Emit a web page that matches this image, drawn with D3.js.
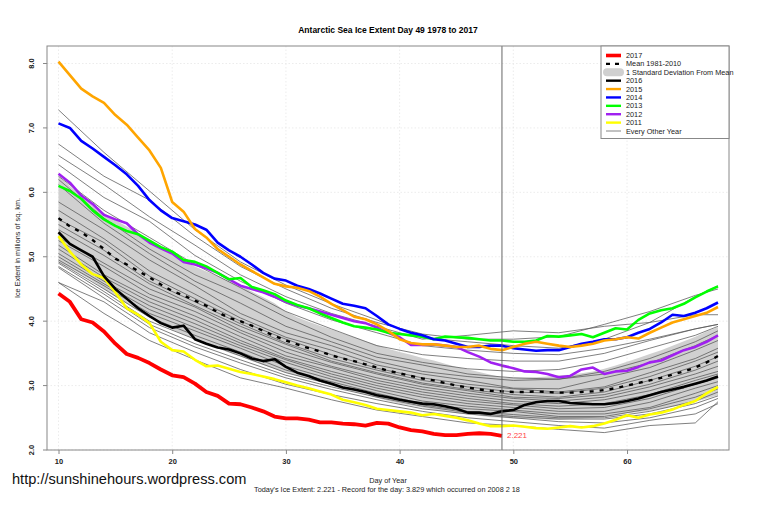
<!DOCTYPE html>
<html><head><meta charset="utf-8">
<script src="https://cdnjs.cloudflare.com/ajax/libs/d3/7.8.5/d3.min.js"></script>
<style>html,body{margin:0;background:#fff}svg{display:block}text{font-family:"Liberation Sans",Arial,sans-serif}</style>
</head><body><svg id="c" width="760" height="506"></svg>
<script>
const firstDay = 10;
const xTicks = [10,20,30,40,50,60];
const yTicks = [2,3,4,5,6,7,8];
const ice2017 = [4.43,4.30,4.03,3.98,3.84,3.65,3.49,3.43,3.35,3.25,3.16,3.13,3.03,2.90,2.84,2.72,2.71,2.66,2.60,2.52,2.49,2.49,2.47,2.43,2.43,2.41,2.40,2.38,2.42,2.41,2.35,2.31,2.29,2.25,2.23,2.23,2.25,2.26,2.25,2.221];
const ice2016 = [5.38,5.2,5.1,5.0,4.7,4.5,4.35,4.2,4.08,3.97,3.9,3.93,3.72,3.65,3.59,3.56,3.5,3.42,3.38,3.41,3.29,3.2,3.15,3.08,3.03,2.97,2.94,2.9,2.85,2.82,2.78,2.75,2.72,2.71,2.68,2.64,2.58,2.58,2.56,2.6,2.62,2.7,2.74,2.76,2.76,2.73,2.72,2.71,2.71,2.73,2.76,2.8,2.85,2.9,2.94,2.98,3.03,3.08,3.14];
const ice2015 = [8.03,7.82,7.61,7.49,7.39,7.2,7.05,6.85,6.65,6.38,5.85,5.7,5.43,5.3,5.12,5.0,4.88,4.78,4.68,4.58,4.54,4.52,4.47,4.38,4.27,4.17,4.07,4.03,3.95,3.85,3.72,3.66,3.64,3.64,3.62,3.6,3.6,3.62,3.57,3.55,3.6,3.65,3.68,3.65,3.62,3.6,3.62,3.65,3.7,3.72,3.75,3.73,3.82,3.9,3.98,4.03,4.08,4.13,4.22];
const ice2014 = [7.07,7.0,6.8,6.68,6.55,6.42,6.28,6.1,5.88,5.72,5.6,5.55,5.5,5.42,5.22,5.1,5.0,4.88,4.75,4.66,4.63,4.55,4.5,4.43,4.35,4.27,4.24,4.2,4.08,3.95,3.88,3.82,3.78,3.72,3.7,3.65,3.6,3.6,3.62,3.62,3.58,3.56,3.54,3.55,3.55,3.6,3.65,3.68,3.72,3.72,3.75,3.82,3.88,3.98,4.1,4.08,4.13,4.2,4.29];
const ice2013 = [6.1,6.02,5.9,5.72,5.58,5.48,5.4,5.35,5.25,5.15,5.08,4.95,4.92,4.85,4.75,4.65,4.67,4.53,4.48,4.42,4.32,4.25,4.2,4.12,4.05,3.98,3.92,3.9,3.87,3.82,3.8,3.78,3.76,3.72,3.76,3.75,3.74,3.72,3.7,3.7,3.68,3.68,3.7,3.77,3.76,3.78,3.8,3.75,3.82,3.89,3.87,4.02,4.12,4.17,4.2,4.27,4.37,4.46,4.54];
const ice2012 = [6.29,6.15,5.95,5.82,5.65,5.58,5.52,5.35,5.22,5.13,5.05,4.92,4.88,4.82,4.75,4.65,4.55,4.5,4.45,4.38,4.3,4.24,4.2,4.15,4.1,4.05,4.0,3.97,3.9,3.82,3.75,3.63,3.63,3.64,3.62,3.6,3.52,3.45,3.36,3.31,3.27,3.22,3.21,3.18,3.13,3.15,3.25,3.28,3.18,3.22,3.23,3.29,3.36,3.39,3.47,3.55,3.6,3.68,3.78];
const ice2011 = [5.32,5.08,4.88,4.73,4.67,4.45,4.2,4.1,3.97,3.68,3.55,3.53,3.4,3.3,3.31,3.26,3.21,3.18,3.14,3.1,3.05,3.0,2.96,2.91,2.86,2.78,2.74,2.7,2.64,2.62,2.6,2.58,2.54,2.56,2.53,2.5,2.46,2.41,2.37,2.37,2.38,2.36,2.34,2.33,2.35,2.37,2.35,2.37,2.41,2.47,2.54,2.5,2.55,2.58,2.63,2.7,2.76,2.88,2.98];
const meanLine = [5.6,5.47,5.38,5.26,5.12,4.97,4.88,4.78,4.68,4.57,4.47,4.4,4.32,4.24,4.14,4.05,4.0,3.93,3.85,3.77,3.7,3.64,3.58,3.53,3.47,3.42,3.38,3.33,3.28,3.23,3.19,3.15,3.11,3.08,3.04,3.0,2.97,2.94,2.92,2.91,2.9,2.9,2.91,2.9,2.89,2.89,2.9,2.91,2.93,2.96,3.0,3.04,3.08,3.12,3.17,3.22,3.28,3.36,3.46];
const sdUpper = [6.25,6.1,5.95,5.8,5.68,5.57,5.47,5.36,5.25,5.13,5.03,4.93,4.85,4.77,4.7,4.62,4.55,4.46,4.37,4.28,4.15,4.06,3.99,3.93,3.87,3.81,3.75,3.69,3.63,3.57,3.52,3.48,3.43,3.39,3.34,3.29,3.25,3.21,3.17,3.13,3.12,3.12,3.13,3.14,3.16,3.17,3.19,3.22,3.26,3.31,3.37,3.43,3.49,3.55,3.62,3.69,3.76,3.84,3.91];
const sdLower = [4.92,4.82,4.73,4.62,4.5,4.38,4.27,4.16,4.06,3.96,3.87,3.79,3.72,3.65,3.58,3.51,3.45,3.38,3.32,3.26,3.2,3.15,3.1,3.05,3.0,2.95,2.9,2.86,2.81,2.76,2.72,2.69,2.66,2.63,2.6,2.57,2.55,2.53,2.51,2.5,2.49,2.48,2.48,2.47,2.47,2.48,2.49,2.5,2.52,2.54,2.57,2.59,2.61,2.64,2.67,2.71,2.75,2.8,2.85];
const thinDays = [10,14,18,22,26,30,34,38,42,46,50,54,58,62,66,68];
const thinYears = [
[7.28,6.62,6.02,5.42,4.92,4.56,4.27,4.02,3.74,3.68,3.62,3.58,3.72,3.98,4.38,4.55],
[6.75,6.25,5.88,5.32,4.85,4.5,4.2,3.98,3.8,3.72,3.72,3.76,3.95,4.15,4.4,4.5],
[6.57,6.12,5.62,5.18,4.72,4.38,4.12,3.92,3.72,3.78,3.85,3.82,3.92,3.98,4.1,4.1],
[6.43,5.92,5.55,5.02,4.62,4.28,4.02,3.82,3.62,3.55,3.5,3.48,3.58,3.72,3.88,3.95],
[6.25,5.72,5.3,4.88,4.52,4.15,3.88,3.62,3.48,3.42,3.38,3.38,3.5,3.7,3.88,3.95],
[6.2,5.6,5.12,4.72,4.42,4.06,3.75,3.5,3.36,3.26,3.22,3.25,3.38,3.58,3.78,3.92],
[6.12,5.52,5.05,4.62,4.28,3.92,3.68,3.44,3.32,3.18,3.12,3.1,3.22,3.42,3.68,3.85],
[5.85,5.42,4.95,4.55,4.12,3.82,3.62,3.38,3.22,3.14,3.08,3.1,3.18,3.35,3.62,3.78],
[5.72,5.28,4.78,4.42,4.05,3.75,3.55,3.32,3.18,3.08,2.96,2.95,3.12,3.28,3.55,3.7],
[5.58,5.22,4.7,4.35,4.0,3.72,3.48,3.27,3.12,3.02,2.95,2.9,2.98,3.2,3.42,3.58],
[5.5,5.1,4.62,4.3,3.96,3.66,3.42,3.24,3.08,2.98,2.9,2.88,2.96,3.14,3.38,3.52],
[5.42,5.02,4.58,4.24,3.92,3.64,3.38,3.2,3.04,2.94,2.86,2.82,2.9,3.08,3.3,3.45],
[5.3,4.9,4.5,4.22,3.86,3.58,3.36,3.18,3.02,2.92,2.82,2.8,2.86,3.02,3.24,3.38],
[5.25,4.85,4.42,4.15,3.82,3.52,3.3,3.12,2.98,2.88,2.8,2.76,2.82,2.98,3.18,3.3],
[5.18,4.72,4.36,4.08,3.76,3.46,3.28,3.08,2.94,2.84,2.76,2.72,2.78,2.92,3.12,3.22],
[5.12,4.68,4.3,4.02,3.7,3.42,3.22,3.04,2.9,2.8,2.72,2.68,2.72,2.86,3.08,3.18],
[5.05,4.62,4.24,3.96,3.66,3.4,3.18,3.0,2.86,2.76,2.7,2.64,2.66,2.8,3.02,3.12],
[5.0,4.58,4.18,3.9,3.62,3.36,3.14,2.96,2.82,2.72,2.66,2.6,2.6,2.74,2.96,3.06],
[4.95,4.55,4.12,3.85,3.58,3.3,3.1,2.92,2.76,2.68,2.62,2.56,2.56,2.66,2.88,3.0],
[4.92,4.5,4.06,3.78,3.52,3.24,3.06,2.88,2.72,2.64,2.6,2.52,2.52,2.64,2.82,2.95],
[4.9,4.46,4.0,3.72,3.46,3.2,3.02,2.86,2.7,2.6,2.55,2.5,2.5,2.6,2.76,2.9],
[4.85,4.42,3.95,3.65,3.4,3.16,2.98,2.82,2.68,2.58,2.52,2.48,2.48,2.56,2.72,2.84],
[4.83,4.36,3.9,3.6,3.35,3.12,2.94,2.78,2.64,2.56,2.5,2.44,2.42,2.5,2.66,2.8],
[4.6,4.3,3.82,3.52,3.25,3.02,2.86,2.72,2.6,2.5,2.44,2.38,2.34,2.46,2.56,2.72],
[4.6,4.12,3.7,3.4,3.12,2.96,2.78,2.62,2.52,2.42,2.38,2.32,2.27,2.38,2.42,2.75]
];
const legendLabels = ["2017","Mean 1981-2010","1 Standard Deviation From Mean","2016","2015","2014","2013","2012","2011","Every Other Year"];
const colors = {y2017:"#ff0000",y2016:"#000000",y2015:"#ffa500",y2014:"#0000ff",y2013:"#00ff00",y2012:"#a020f0",y2011:"#ffff00",band:"#d0d0d0",thin:"#555555"};

const svg = d3.select("#c");
const x = d3.scaleLinear().domain([10,68]).range([58.5,718]);
const y = d3.scaleLinear().domain([2,8]).range([450,63.5]);
const L = {l:47,r:729,t:46,b:450};
const day = i => firstDay + i;
const line = d3.line().x((d,i)=>x(day(i))).y(d=>y(d));

// grid
const grid = svg.append("g").attr("stroke","#e4e4e4").attr("stroke-width",.7).attr("stroke-dasharray","1.5 2");
grid.selectAll(".v").data(xTicks).join("line").attr("x1",d=>x(d)).attr("x2",d=>x(d)).attr("y1",L.t).attr("y2",L.b);
grid.selectAll(".h").data(yTicks).join("line").attr("y1",d=>y(d)).attr("y2",d=>y(d)).attr("x1",L.l).attr("x2",L.r);

// band
const area = d3.area().x((d,i)=>x(day(i))).y0((d,i)=>y(sdLower[i])).y1(d=>y(d));
svg.append("path").datum(sdUpper).attr("d",area).attr("fill",colors.band);

// thin
svg.append("g").selectAll("path").data(thinYears).join("path")
  .attr("d",d3.line().x((d,i)=>x(thinDays[i])).y(d=>y(d)))
  .attr("fill","none").attr("stroke",colors.thin).attr("stroke-width",.75);

const series = [[ice2011,colors.y2011,2.6],[ice2012,colors.y2012,2.6],[ice2013,colors.y2013,2.6],[ice2014,colors.y2014,2.6],[ice2015,colors.y2015,2.6],[ice2016,colors.y2016,2.6]];
svg.append("path").datum(meanLine).attr("d",line).attr("fill","none").attr("stroke","#000").attr("stroke-width",2.4).attr("stroke-dasharray","4 6");
svg.append("g").selectAll("path").data(series).join("path").attr("d",d=>line(d[0])).attr("fill","none").attr("stroke",d=>d[1]).attr("stroke-width",d=>d[2]).attr("stroke-linejoin","round");
svg.append("path").datum(ice2017).attr("d",line).attr("fill","none").attr("stroke",colors.y2017).attr("stroke-width",3.8).attr("stroke-linejoin","round");

// today marker
svg.append("line").attr("x1",x(49)).attr("x2",x(49)).attr("y1",L.t).attr("y2",L.b).attr("stroke","#666").attr("stroke-width",1);
svg.append("text").attr("x",x(49)+5).attr("y",y(2.221)+2.5).attr("font-size",8).attr("fill","#f44").text("2.221");

// frame
svg.append("rect").attr("x",L.l).attr("y",L.t).attr("width",L.r-L.l).attr("height",L.b-L.t).attr("fill","none").attr("stroke","#888").attr("stroke-width",1);

// axes
const ax = svg.append("g").attr("transform",`translate(0,${L.b})`).call(d3.axisBottom(x).tickValues(xTicks).tickSize(4).tickPadding(5));
const ay = svg.append("g").attr("transform",`translate(${L.l},0)`).call(d3.axisLeft(y).tickValues(yTicks).tickSize(4));
ax.select(".domain").remove(); ay.select(".domain").remove();
[ax,ay].forEach(a=>{a.selectAll("line").attr("stroke","#888");a.selectAll("text").attr("font-size",7.5).attr("font-weight","bold").attr("fill","#222").style("font-family",'"Liberation Sans",Arial,sans-serif');});
ay.selectAll("text").attr("transform",d=>`rotate(-90 -13 ${y(d)})`).attr("x",-13).attr("y",y).attr("dy","0").attr("text-anchor","middle").attr("dominant-baseline","auto");
ay.selectAll(".tick").attr("transform","translate(0,0)");
ay.selectAll(".tick line").attr("y1",d=>y(d)).attr("y2",d=>y(d));

// labels
const T=(s,xx,yy,size,o={})=>svg.append("text").attr("x",xx).attr("y",yy).attr("font-size",size).attr("text-anchor",o.a||"middle").attr("font-weight",o.w||"normal").attr("fill",o.c||"#222").attr("transform",o.r?`rotate(${o.r} ${xx} ${yy})`:null).text(s);
T("Antarctic Sea Ice Extent Day 49 1978 to 2017",388,33,8.5,{w:"bold",c:"#000"});
T("Ice Extent in millions of sq. km.",20,248,7.3,{r:-90});
T("Day of Year",388,483,7.3);
T("Today's Ice Extent: 2.221  - Record for the day: 3.829 which occurred on 2008 2 18",387,491.5,7.3);
T("http://sunshinehours.wordpress.com",12,484,14.6,{a:"start",c:"#111"});

// legend
const lg = svg.append("g");
lg.append("rect").attr("x",601).attr("y",46).attr("width",128).attr("height",92.5).attr("fill","#fff").attr("stroke","#888").attr("stroke-width",1);
const rowY = d3.scaleLinear().domain([0,9]).range([55.5,131]);
const legendStyle = [[colors.y2017,3.6],["#000",2.2,"4 5"],null,[colors.y2016,2.4],[colors.y2015,2.4],[colors.y2014,2.4],[colors.y2013,2.4],[colors.y2012,2.4],[colors.y2011,2.4],["#666",.8]];
legendLabels.forEach((s,i)=>{
  const yy=rowY(i), st=legendStyle[i];
  if(st){const l=lg.append("line").attr("x1",606).attr("x2",621).attr("y1",yy).attr("y2",yy).attr("stroke",st[0]).attr("stroke-width",st[1]); if(st[2]) l.attr("stroke-dasharray",st[2]);}
  else lg.append("rect").attr("x",603).attr("y",yy-4).attr("width",21).attr("height",8).attr("rx",4).attr("fill",colors.band);
  lg.append("text").attr("x",626).attr("y",yy+2.6).attr("font-size",7.3).attr("fill","#222").text(s);
});
</script></body></html>
